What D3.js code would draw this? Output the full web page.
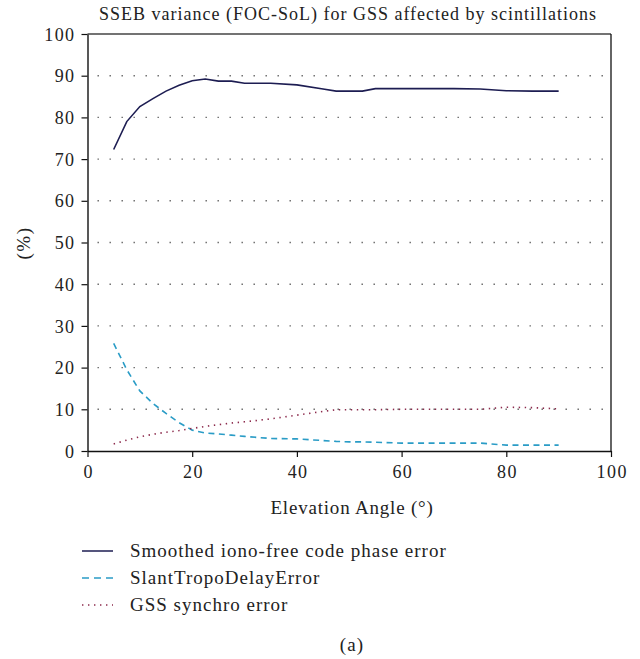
<!DOCTYPE html>
<html>
<head>
<meta charset="utf-8">
<script src="https://cdn.jsdelivr.net/npm/d3@7"></script>
<style>
  html, body { margin: 0; padding: 0; background: #fff; }
  svg { display: block; }
  text { font-family: "Liberation Serif", "DejaVu Serif", serif; fill: #222; }
</style>
</head>
<body>
<script>
const elevation = [5, 7.5, 10, 12.5, 15, 17.5, 20, 22.5, 25, 27.5, 30, 35, 40, 45, 47.5, 50, 52.5, 55, 60, 65, 70, 75, 80, 85, 90];
const smoothedIonoFree = [72.3, 79.0, 82.6, 84.5, 86.3, 87.7, 88.8, 89.2, 88.7, 88.7, 88.2, 88.2, 87.8, 86.8, 86.3, 86.3, 86.3, 86.9, 86.9, 86.9, 86.9, 86.8, 86.4, 86.3, 86.3];
const slantTropo = [25.8, 19.5, 14.4, 11.4, 9.0, 6.8, 5.0, 4.3, 4.1, 3.8, 3.5, 3.0, 2.9, 2.5, 2.3, 2.2, 2.2, 2.1, 1.9, 1.9, 1.9, 1.9, 1.4, 1.4, 1.4];
const gssSynchro = [1.7, 2.6, 3.4, 4.0, 4.5, 4.9, 5.4, 5.9, 6.3, 6.7, 7.0, 7.7, 8.6, 9.5, 9.9, 9.9, 9.9, 9.9, 10.0, 10.0, 10.0, 10.0, 10.5, 10.4, 10.1];
const xTicks = [0, 20, 40, 60, 80, 100];
const yTicks = [0, 10, 20, 30, 40, 50, 60, 70, 80, 90, 100];
const seriesNames = ["Smoothed iono-free code phase error", "SlantTropoDelayError", "GSS synchro error"];
const titleText = "SSEB variance (FOC-SoL) for GSS affected by scintillations";

const W = 640, H = 659;
const L = 87.5, R = 611, T = 34, B = 451;

const svg = d3.select("body").append("svg").attr("width", W).attr("height", H);

const x = d3.scaleLinear().domain([0, 100]).range([L, R]);
const y = d3.scaleLinear().domain([0, 100]).range([B, T]);

// gridlines
svg.append("g").selectAll("line").data(yTicks.filter(v => v > 0 && v < 100)).join("line")
  .attr("x1", L + 10).attr("x2", R - 2)
  .attr("y1", d => y(d)).attr("y2", d => y(d))
  .attr("stroke", "#666").attr("stroke-width", 1.4)
  .attr("stroke-dasharray", "1.4,10.6");

// top and right border
svg.append("line").attr("x1", L).attr("x2", R).attr("y1", T).attr("y2", T)
  .attr("stroke", "#444").attr("stroke-width", 1.6);
svg.append("line").attr("x1", R).attr("x2", R).attr("y1", T).attr("y2", B)
  .attr("stroke", "#111").attr("stroke-width", 1.3);

// axes
const xAxis = d3.axisBottom(x).tickValues(xTicks).tickSize(6).tickSizeOuter(0).tickPadding(6);
const yAxis = d3.axisLeft(y).tickValues(yTicks).tickSize(6).tickSizeOuter(0).tickPadding(6);

const gx = svg.append("g").attr("transform", `translate(0,${B})`).call(xAxis);
const gy = svg.append("g").attr("transform", `translate(${L},0)`).call(yAxis);
[gx, gy].forEach(g => {
  g.select(".domain").attr("stroke", "#111").attr("stroke-width", 1.4);
  g.selectAll(".tick line").attr("stroke", "#111").attr("stroke-width", 1.2);
  g.selectAll(".tick text").attr("font-family", '"Liberation Serif", serif')
    .attr("font-size", 18).attr("letter-spacing", 1.4).attr("fill", "#222");
});
gx.selectAll(".tick text").attr("dy", "0.85em").attr("dx", "0.7");
gy.selectAll(".tick text").attr("dy", "0.34em");

// series
const line = d3.line().x(d => x(d[0])).y(d => y(d[1]));
const mk = vals => elevation.map((e, i) => [e, vals[i]]);
const styles = [
  { data: smoothedIonoFree, color: "#1d1d52", dash: null, w: 1.6 },
  { data: slantTropo, color: "#2a9cc6", dash: "6,4.5", w: 1.6 },
  { data: gssSynchro, color: "#8c2a4c", dash: "1.4,4.6", w: 1.6 }
];
styles.forEach(s => {
  svg.append("path").datum(mk(s.data)).attr("d", line)
    .attr("fill", "none").attr("stroke", s.color).attr("stroke-width", s.w)
    .attr("stroke-dasharray", s.dash);
});

// title
svg.append("text").attr("x", 348).attr("y", 20).attr("text-anchor", "middle")
  .attr("font-size", 18).attr("letter-spacing", 1).text(titleText);

// axis labels
svg.append("text").attr("transform", "translate(30,243) rotate(-90)")
  .attr("text-anchor", "middle").attr("font-size", 19).attr("letter-spacing", 1.5).text("(%)");
svg.append("text").attr("x", 352).attr("y", 514).attr("text-anchor", "middle")
  .attr("font-size", 19).attr("letter-spacing", 0.8).text("Elevation Angle (°)");

// legend
const lg = svg.append("g");
styles.forEach((s, i) => {
  const yy = 551 + i * 27;
  lg.append("line").attr("x1", 82).attr("x2", 113).attr("y1", yy).attr("y2", yy)
    .attr("stroke", s.color).attr("stroke-width", 1.5)
    .attr("stroke-dasharray", i === 1 ? "7,5" : s.dash);
  lg.append("text").attr("x", 130).attr("y", yy + 6).attr("font-size", 19)
    .attr("letter-spacing", 1).text(seriesNames[i]);
});

svg.append("text").attr("x", 352).attr("y", 651).attr("text-anchor", "middle")
  .attr("font-size", 19).attr("letter-spacing", 1.2).text("(a)");
</script>
</body>
</html>
